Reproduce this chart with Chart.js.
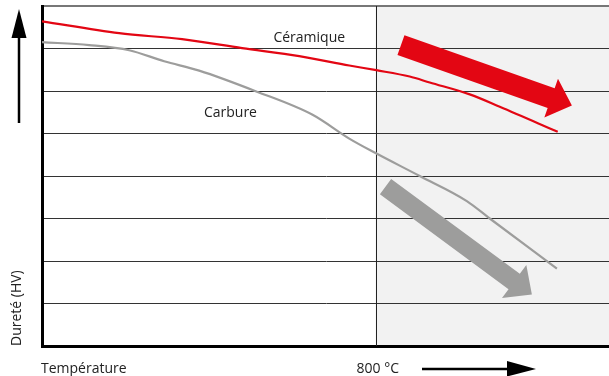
<!DOCTYPE html>
<html>
<head>
<meta charset="utf-8">
<script src="https://cdn.jsdelivr.net/npm/chart.js@4/dist/chart.umd.min.js"></script>
<style>
  body { margin: 0; background: #fff; }
  canvas { display: block; }
</style>
</head>
<body>
<canvas id="durete" width="609" height="376"></canvas>
<script>
// Dureté vs température : céramique / carbure

const tempsCeramique = [0, 185, 336, 480, 617, 737, 802, 882, 930, 1026, 1098, 1237];
const dureteCeramique = [7.64, 7.36, 7.22, 7.01, 6.82, 6.60, 6.49, 6.34, 6.20, 5.92, 5.63, 5.04];

const tempsCarbure = [0, 113, 209, 293, 377, 514, 649, 737, 800, 906, 1019, 1074, 1235];
const dureteCarbure = [7.15, 7.08, 6.96, 6.70, 6.48, 5.99, 5.44, 4.88, 4.54, 4.00, 3.41, 3.00, 1.82];

const seuilTemp = 800;
const seuilLabel = '800 °C';
const xLabel = 'Température';
const yLabel = 'Dureté (HV)';

// étiquettes des courbes [x, y] en unités de données
const serieLabels = [
  { text: 'Céramique', at: [641, 7.24] },
  { text: 'Carbure', at: [452, 5.49] }
];

// flèches de tendance (début / fin en unités de données)
const trendArrows = [
  { from: [861, 7.08], to: [1271, 5.66], color: '#e30613', width: 21 },
  { from: [824, 3.75], to: [1175, 1.21], color: '#9d9d9c', width: 19 }
];

const FONT = '14px "Open Sans", Roboto, sans-serif';
const TEXT_COLOR = '#222';

function toPx(chart, pt) {
  return [chart.scales.x.getPixelForValue(pt[0]), chart.scales.y.getPixelForValue(pt[1])];
}

function fatArrow(ctx, p0, p1, w, hw, hl, color) {
  const dx = p1[0] - p0[0], dy = p1[1] - p0[1];
  const len = Math.hypot(dx, dy);
  const ux = dx / len, uy = dy / len;
  const nx = -uy, ny = ux;
  const bx = p1[0] - ux * hl, by = p1[1] - uy * hl;
  ctx.save();
  ctx.fillStyle = color;
  ctx.beginPath();
  ctx.moveTo(p0[0] + nx * w / 2, p0[1] + ny * w / 2);
  ctx.lineTo(bx + nx * w / 2, by + ny * w / 2);
  ctx.lineTo(bx + nx * hw / 2, by + ny * hw / 2);
  ctx.lineTo(p1[0], p1[1]);
  ctx.lineTo(bx - nx * hw / 2, by - ny * hw / 2);
  ctx.lineTo(bx - nx * w / 2, by - ny * w / 2);
  ctx.lineTo(p0[0] - nx * w / 2, p0[1] - ny * w / 2);
  ctx.closePath();
  ctx.fill();
  ctx.restore();
}

const decorPlugin = {
  id: 'decor',
  beforeDraw(chart) {
    const { ctx, chartArea } = chart;
    const x800 = chart.scales.x.getPixelForValue(seuilTemp);
    ctx.save();
    ctx.fillStyle = '#f2f2f2';
    ctx.fillRect(x800, chartArea.top, chartArea.right - x800, chartArea.bottom - chartArea.top);
    ctx.restore();
  },
  beforeDatasetsDraw(chart) {
    const { ctx, chartArea } = chart;
    const x800 = Math.round(chart.scales.x.getPixelForValue(seuilTemp)) + 0.5;
    ctx.save();
    ctx.strokeStyle = '#222';
    ctx.lineWidth = 1;
    ctx.beginPath();
    ctx.moveTo(x800, chartArea.top);
    ctx.lineTo(x800, chartArea.bottom);
    ctx.stroke();
    ctx.restore();
  },
  afterDatasetsDraw(chart) {
    const { ctx, chartArea } = chart;

    trendArrows.forEach(a => {
      fatArrow(ctx, toPx(chart, a.from), toPx(chart, a.to), a.width, 41, 22, a.color);
    });

    ctx.save();
    ctx.font = FONT;
    ctx.fillStyle = TEXT_COLOR;
    ctx.textBaseline = 'middle';
    ctx.textAlign = 'center';
    serieLabels.forEach(l => {
      const p = toPx(chart, l.at);
      ctx.fillText(l.text, p[0], p[1]);
    });

    // axis titles
    ctx.textAlign = 'left';
    ctx.fillText(xLabel, chartArea.left - 1, chartArea.bottom + 23);
    ctx.fillText(seuilLabel, chart.scales.x.getPixelForValue(seuilTemp) - 19, chartArea.bottom + 23);

    ctx.translate(chartArea.left - 25, chartArea.bottom);
    ctx.rotate(-Math.PI / 2);
    ctx.fillText(yLabel, 0, 0);
    ctx.restore();

    // axis arrows
    ctx.save();
    ctx.strokeStyle = '#000';
    ctx.fillStyle = '#000';
    ctx.lineWidth = 2.5;
    const ax = chartArea.left - 23;
    ctx.beginPath();
    ctx.moveTo(ax, 123);
    ctx.lineTo(ax, 36);
    ctx.stroke();
    ctx.beginPath();
    ctx.moveTo(ax, 9);
    ctx.lineTo(ax - 7.5, 38);
    ctx.lineTo(ax + 7.5, 38);
    ctx.closePath();
    ctx.fill();

    const ay = chartArea.bottom + 23;
    ctx.beginPath();
    ctx.moveTo(422, ay);
    ctx.lineTo(509, ay);
    ctx.stroke();
    ctx.beginPath();
    ctx.moveTo(536, ay);
    ctx.lineTo(507, ay - 8);
    ctx.lineTo(507, ay + 7.5);
    ctx.closePath();
    ctx.fill();
    ctx.restore();
  }
};

new Chart(document.getElementById('durete'), {
  type: 'line',
  data: {
    datasets: [
      {
        label: 'Céramique',
        data: tempsCeramique.map((t, i) => ({ x: t, y: dureteCeramique[i] })),
        borderColor: '#e30613',
        borderWidth: 2.2,
        pointRadius: 0,
        cubicInterpolationMode: 'monotone',
        fill: false
      },
      {
        label: 'Carbure',
        data: tempsCarbure.map((t, i) => ({ x: t, y: dureteCarbure[i] })),
        borderColor: '#9d9d9c',
        borderWidth: 2.2,
        pointRadius: 0,
        cubicInterpolationMode: 'monotone',
        fill: false
      }
    ]
  },
  options: {
    responsive: false,
    devicePixelRatio: 1,
    animation: false,
    layout: { padding: { left: 42, top: 6, right: 0, bottom: 30 } },
    plugins: {
      legend: { display: false },
      tooltip: { enabled: false }
    },
    scales: {
      x: {
        type: 'linear',
        min: 0,
        max: 1360,
        ticks: { display: false },
        grid: { display: false, drawTicks: false },
        border: { display: true, color: '#000', width: 3 }
      },
      y: {
        min: 0,
        max: 8,
        ticks: { display: false, stepSize: 1 },
        grid: {
          drawTicks: false,
          color: ctx => ctx.tick && ctx.tick.value === 8 ? '#777' : '#333',
          lineWidth: ctx => ctx.tick && ctx.tick.value === 8 ? 2 : 1
        },
        border: { display: true, color: '#000', width: 3 }
      }
    }
  },
  plugins: [decorPlugin]
});
</script>
</body>
</html>
